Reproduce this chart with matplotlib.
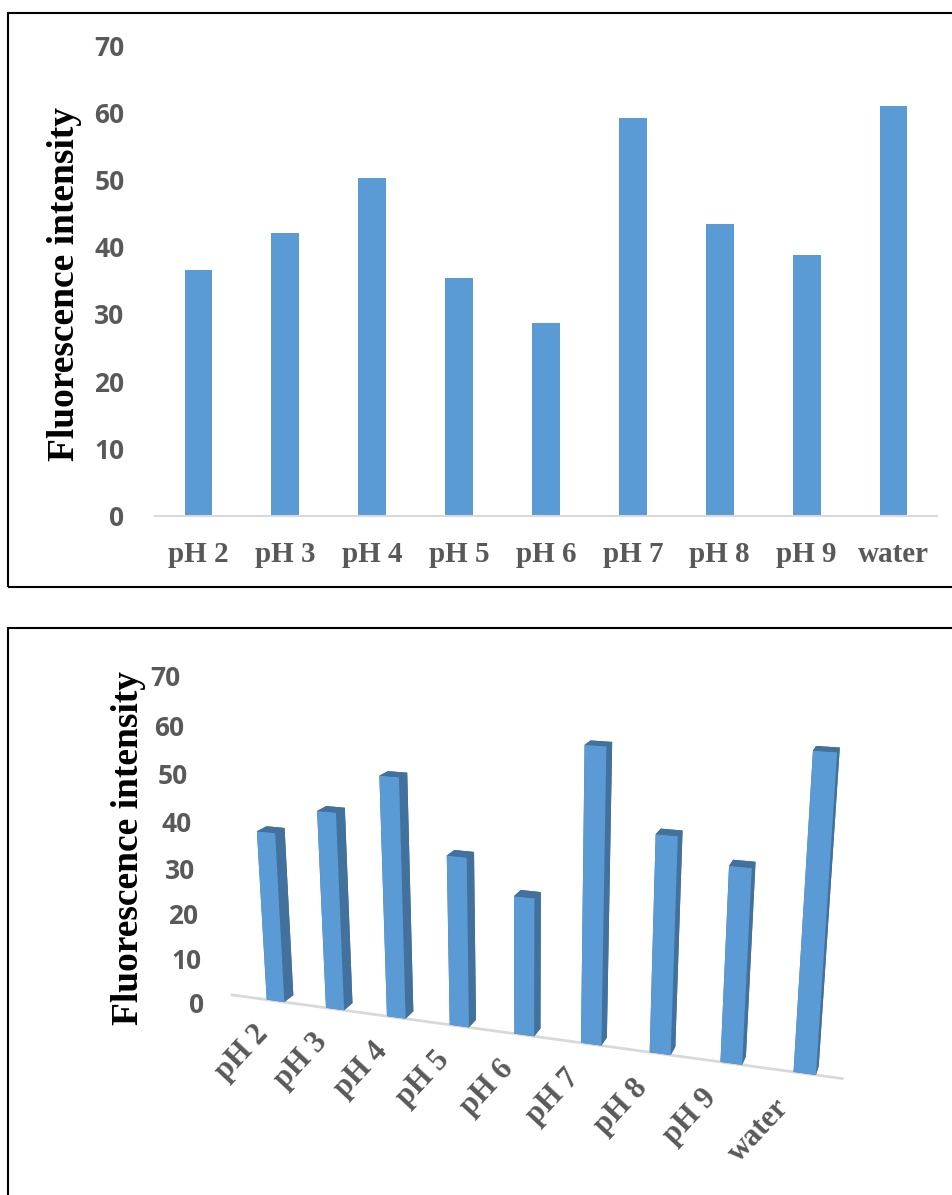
import numpy as np
import matplotlib
matplotlib.use('Agg')
import matplotlib.pyplot as plt
from matplotlib.patches import Rectangle
from mpl_toolkits.mplot3d import proj3d

categories = ['pH 2', 'pH 3', 'pH 4', 'pH 5', 'pH 6', 'pH 7', 'pH 8', 'pH 9', 'water']
intensity = [36.6, 42.0, 50.2, 35.4, 28.6, 59.1, 43.4, 38.7, 60.9]
y_ticks = [0, 10, 20, 30, 40, 50, 60, 70]

bar_blue = '#5B9BD5'
bar_dark = '#41719C'
tick_grey = '#595959'
axis_grey = '#D9D9D9'

serif = ['Liberation Serif', 'DejaVu Serif']
sans = ['Open Sans', 'DejaVu Sans']

W, H = 952, 1195
fig = plt.figure(figsize=(W / 100, H / 100), dpi=100)

# panel frames (right side runs off the picture)
fig.patches.append(Rectangle((8 / W, 1 - 587 / H), 1.0, 574 / H, transform=fig.transFigure,
                             fill=False, ec='black', lw=1.5))
fig.patches.append(Rectangle((8 / W, -0.1), 1.0, (H - 628) / H + 0.1, transform=fig.transFigure,
                             fill=False, ec='black', lw=1.5))

# ---- top: flat column chart ----
x = np.arange(len(categories))
ax = fig.add_axes([155 / W, 1 - 515.5 / H, (937 - 155) / W, (515.5 - 45.2) / H])
ax.bar(x, intensity, width=0.32, color=bar_blue)
ax.set_xlim(-0.5, 8.5)
ax.set_ylim(0, 70)
ax.set_yticks(y_ticks)
ax.set_xticks(x, categories)
for s in ['top', 'right', 'left']:
    ax.spines[s].set_visible(False)
ax.spines['bottom'].set_color(axis_grey)
ax.spines['bottom'].set_linewidth(1.5)
ax.tick_params(length=0)
ax.tick_params(axis='y', pad=22)
ax.tick_params(axis='x', pad=18)
for t in ax.get_yticklabels():
    t.set_family(sans); t.set_weight('bold'); t.set_size(19); t.set_color(tick_grey)
for t in ax.get_xticklabels():
    t.set_family(serif); t.set_weight('bold'); t.set_size(21); t.set_color(tick_grey)
fig.text(65 / W, 1 - 284 / H, 'Fluorescence intensity', rotation=90, ha='center', va='center',
         family=serif, weight='bold', size=27, color='black')

# ---- bottom: 3-D column chart ----
ax3 = fig.add_axes([0.152, -0.0415, 0.783, 0.623], projection='3d', computed_zorder=False)
ax3.patch.set_visible(False)
ax3.set_proj_type('persp', focal_length=0.35)
ax3.view_init(elev=17, azim=-71.5)
ax3.set_xlim(-0.5, 8.5)
ax3.set_ylim(-0.35, 0.35)
ax3.set_zlim(0, 70)
ax3.set_box_aspect((9.25, 0.7, 5.25), zoom=0.97)
ax3.set_axis_off()

d = 0.3
face_colors = []
for _ in categories:
    # -z, +z, -y, +y, -x, +x
    face_colors += [bar_dark, bar_dark, bar_blue, bar_dark, bar_dark, bar_dark]
ax3.plot([-0.75, 8.5], [-d / 2, -d / 2], [0, 0], color=axis_grey, lw=2, zorder=1)
ax3.bar3d(x - d / 2, np.full(len(x), -d / 2), np.zeros(len(x)), d, d, intensity,
          color=face_colors, shade=False, zorder=2)

M = ax3.get_proj()
for v in y_ticks:
    xp, yp, _ = proj3d.proj_transform(-1.25, -d / 2, v - 3.3, M)
    ax3.text2D(xp, yp, str(v), transform=ax3.transData, ha='right', va='center',
               family=sans, weight='bold', size=19, color=tick_grey)

for i, c in enumerate(categories):
    xp, yp, _ = proj3d.proj_transform(i - 0.4, -d / 2, -5, M)
    ax3.text2D(xp, yp, c, transform=ax3.transData, rotation=47, ha='right', va='top',
               rotation_mode='anchor', family=serif, weight='bold', size=22, color=tick_grey)

fig.text(129 / W, 1 - 848 / H, 'Fluorescence intensity', rotation=90, ha='center', va='center',
         family=serif, weight='bold', size=27, color='black')

fig.savefig('out.png', dpi=100)
